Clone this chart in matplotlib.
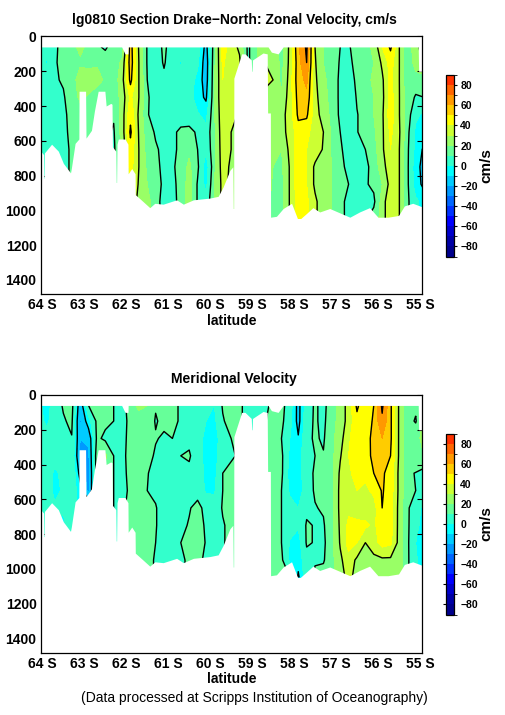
import numpy as np
import matplotlib
matplotlib.use('Agg')
import matplotlib.pyplot as plt
from matplotlib.colors import ListedColormap, BoundaryNorm

plt.rcParams['font.family'] = ['Liberation Sans', 'DejaVu Sans']

lat = np.arange(64.1, 54.85, -0.2)
depth = [60, 150, 250, 350, 450, 550, 650, 750, 850, 950, 1050]

# one row per latitude, top to bottom, cm/s
zonal = [
    [9, 9, 8, 8, 9, 11, 11, 11, 11, 11, 11],
    [1, -1, 5, 6, 7, 8, 8, 8, 8, 8, 8],
    [8, 9, 9, 7, 7, 8, 8, 8, 8, 8, 8],
    [14, 13, 11, 9, 8, 8, 8, 8, 8, 8, 8],
    [16, 17, 15, 15, 13, 12, 11, 11, 11, 11, 11],
    [23, 18, 25, 22, 15, 14, 14, 14, 14, 14, 14],
    [17, 18, 24, 19, 16, 15, 15, 15, 15, 15, 15],
    [12, 18, 25, 12, 15, 15, 15, 15, 15, 15, 15],
    [8, 17, 18, 14, 12, 12, 12, 12, 12, 12, 12],
    [16, 15, 14, 13, 11, 9, 8, 8, 8, 8, 8],
    [14, 22, 26, 24, 25, 24, 22, 22, 22, 22, 22],
    [55, 56, 53, 42, 47, 52, 46, 44, 40, 40, 40],
    [29, 30, 30, 30, 28, 29, 30, 30, 29, 26, 26],
    [9, 9, 10, 12, 11, 14, 16, 18, 20, 24, 26],
    [5, 5, 6, 3, 5, 9, 11, 12, 12, 13, 14],
    [12, 11, 8, 7, 8, 9, 8, 8, 9, 7, 7],
    [5, 4, 6, 6, 6, 8, 7, 8, 7, 6, 6],
    [5, -1, 3, 5, 5, 12, 13, 15, 14, 14, 14],
    [5, 8, 5, 4, 6, 12, 18, 22, 24, 24, 24],
    [5, 2, -3, -5, 1, 9, 10, 12, 9, 9, 9],
    [-14, -17, -16, -12, -3, 3, 1, -6, -3, 3, 3],
    [16, 18, 19, 19, 19, 18, 18, 18, 20, 20, 20],
    [45, 42, 40, 40, 38, 37, 36, 35, 33, 33, 33],
    [35, 32, 34, 34, 35, 30, 30, 28, 28, 28, 28],
    [28, 32, 30, 28, 28, 28, 28, 28, 28, 28, 28],
    [8, 8, 8, 8, 8, 8, 8, 8, 8, 8, 8],
    [18, 18, 18, 18, 18, 18, 18, 18, 18, 18, 18],
    [29, 30, 31, 29, 28, 28, 28, 28, 28, 28, 28],
    [25, 28, 30, 25, 30, 28, 22, 20, 18, 16, 16],
    [14, 17, 17, 22, 26, 27, 20, 18, 17, 16, 16],
    [33, 33, 35, 35, 35, 33, 33, 31, 31, 31, 31],
    [58, 56, 56, 54, 52, 46, 46, 46, 46, 45, 44],
    [72, 70, 62, 58, 52, 43, 40, 40, 40, 42, 44],
    [30, 31, 32, 33, 34, 35, 36, 28, 28, 32, 32],
    [20, 20, 22, 24, 26, 30, 29, 26, 24, 24, 24],
    [16, 16, 16, 16, 17, 18, 18, 20, 20, 20, 20],
    [10, 9, 8, 8, 8, 10, 11, 12, 13, 14, 14],
    [9, 7, 3, 2, 3, 5, 7, 8, 10, 6, 6],
    [14, 14, 13, 11, 9.5, 9.5, 8, 6, 6, 5, 5],
    [17, 17, 16, 15, 14, 14, 10, 8, 9, 9, 9],
    [22, 20, 22, 20, 20, 18, 16, 13, 12, 8, 14],
    [40, 32, 28, 27, 28, 28, 28, 26, 20, 24, 24],
    [52, 44, 43, 44, 46, 42, 40, 36, 34, 40, 40],
    [31, 31, 31, 31, 31, 32, 31, 31, 31, 31, 31],
    [11, 12, 11, 15, 15, 13, 12, 12, 12, 12, 12],
    [28, 25, 15, 9, 2, -2, -3, -6, -5, 2, 2],
    [33, 32, 15, 10, -2, -4, -12, -14, -13, -4, -2],
]

meridional = [
    [3, 4, 5, 6, 7, 7, 7, 7, 7, 7, 7],
    [-4, -2, 5, 3, 5, 4, 3, 3, 3, 3, 3],
    [5, 5, 5, 4, -2, -2, 1, 0, 0, 0, 0],
    [11, 9, 7, 5, 3, 1, 1, -2, 0, 0, 0],
    [14, 12, 9.5, 8, 9, 6, 6, 6, 6, 6, 6],
    [-18, -22, -20, -22, -14, -5, -5, -5, -5, -5, -5],
    [10, -4, -18, -22, -24, -24, 5, 5, 5, 5, 5],
    [14, 12, 12, 16, 15, 15, 15, 15, 15, 15, 15],
    [12, 12, 8, 22, 15, 14, 14, 14, 14, 14, 14],
    [10, 10, 10, 10, 10, 10, 10, 10, 10, 10, 10],
    [5, 6, 7, 7, 6, 5, 6, 6, 6, 6, 6],
    [16, 13, 13, 14, 14, 13, 16, 18, 16, 16, 16],
    [22, 16, 14, 14, 12, 11, 13, 13, 14, 15, 15],
    [20, 18, 16, 15, 10.5, 10, 11, 13, 13, 13, 13],
    [11, 9, 11, 8, 7, 7, 11, 11, 10, 9, 9],
    [12, 13, 8, 6, 6, 6, 3, 3, 5, 6, 6],
    [16, 16, 10, 6, 7, 7, 6, 6, 7, 6, 6],
    [7, 7, 7, 10, 7, 7, 7, 7, 10, 8, 8],
    [7, 10, 8, 11, 8, 7, 9, 11, 18, 12, 12],
    [6, 6, 3, 5, 6, 5, 14, 16, 18, 14, 14],
    [3, 0, -2, -3, -3, -1, 6, 8, 9, 7, 7],
    [0, -2, -5, -3, -3, -1, 3, 7, 8, 8, 8],
    [11, 9, 6, 5, 10, 10, 11, 9, 9, 9, 9],
    [18, 14, 10, 9, 12, 13, 12, 13, 13, 13, 13],
    [11, 11, 11, 11, 11, 11, 11, 11, 11, 11, 11],
    [8, 8, 8, 8, 8, 8, 8, 8, 8, 8, 8],
    [10, 10, 10, 10, 10, 10, 10, 10, 10, 10, 10],
    [6, 9, 10, 10, 10, 10, 10, 10, 10, 10, 10],
    [14, 15, 16, 20, 20, 17, 16, 16, 16, 16, 16],
    [13, 12, 10, 12, 12, 10, 10, 10, 10, 12, 13],
    [5, 4, 0, -2, -4, -2, 4, 5, -1, -2, 10],
    [-14, -14, -9, -4, -5, -6, 0, 1, -4, -6, -12],
    [6, 7, 8, 7, 7, 6, 8, 11, 11, 7, 7],
    [11, 11, 11, 10, 11, 11, 9.5, 9.5, 9.5, 9.5, 11],
    [8, 8, 9, 10.5, 14, 14, 11, 9, 8, 9, 14],
    [14, 16, 17, 17, 17, 17, 17, 17, 17, 17, 17],
    [24, 24, 26, 29, 32, 33, 33, 32, 31, 28, 25],
    [34, 34, 38, 40, 38, 38, 38, 42, 44, 36, 34],
    [52, 47, 48, 46, 44, 40, 36, 42, 40, 28, 25],
    [42, 42, 43, 42, 42, 38, 34, 42, 30, 22, 20],
    [50, 52, 55, 55, 50, 42, 36, 38, 36, 27, 25],
    [72, 68, 60, 55, 52, 51, 50, 46, 44, 28, 26],
    [52, 52, 52, 50, 45, 45, 45, 44, 42, 28, 25],
    [29, 29, 29, 29, 28, 28, 27, 27, 27, 26, 26],
    [14, 14, 12, 12, 12, 12, 12, 12, 12, 12, 12],
    [12, 9, 18, 20, 9.5, 10, 3, 2, 0, 1, 1],
    [18, 25, 22, 20, 6, 5, -2, -3, -4, -4, -4],
]

# edges of the sampled section
bottom_lat = [64.04, 63.97, 63.965, 63.955, 63.95, 63.78, 63.62, 63.5, 63.33, 63.31, 63.22, 63.13,
              63.125, 62.97, 62.96, 62.83, 62.76, 62.67, 62.51, 62.48, 62.37, 62.34, 62.33, 62.25,
              62.24, 62.23, 62.22, 62.19, 62.03, 61.96, 61.955, 61.87, 61.79, 61.785, 61.6, 61.44,
              61.32, 61.12, 60.8, 60.64, 60.4, 60.01, 59.81, 59.69, 59.53, 59.46, 59.45, 59.44,
              59.435, 59.25, 59.17, 59.02, 59.01, 59.0, 58.99, 58.74, 58.64, 58.63, 58.565, 58.56,
              58.42, 58.26, 58.06, 57.9, 57.71, 57.55, 57.39, 57.15, 56.67, 56.44, 56.2, 56.0,
              55.76, 55.51, 55.37, 55.17, 54.95]
bottom_depth = [660, 680, 815, 815, 670, 620, 660, 730, 785, 760, 615, 590,
                315, 315, 585, 540, 430, 315, 315, 400, 385, 390, 635, 660,
                840, 840, 620, 590, 590, 620, 790, 760, 790, 910, 950, 985,
                960, 965, 940, 965, 940, 930, 920, 865, 770, 750, 990, 990,
                240, 100, 100, 135, 200, 200, 135, 95, 100, 440, 440, 1040,
                1035, 990, 960, 1060, 1020, 985, 1010, 990, 1040, 1010, 985, 1040,
                1040, 1030, 975, 960, 980]
top_lat = [64.04, 62.11, 62.03, 61.96, 61.955, 58.62, 58.54, 58.38, 58.26, 55.04, 55.03, 54.95]
top_depth = [60, 60, 100, 100, 60, 60, 90, 100, 60, 60, 200, 200]

lat_ticks = [64, 63, 62, 61, 60, 59, 58, 57, 56, 55]
depth_ticks = [0, 200, 400, 600, 800, 1000, 1200, 1400]
band_edges = list(range(-90, 100, 10))
contour_levels = [-70, -50, -30, -10, 10, 30, 50, 70]
bar_ticks = list(range(-80, 100, 20))

band_colors = [(0, 0, .55), (0, 0, .65), (0, 0, .8), (0, 0, 1), (0, .2, 1), (0, .4, 1),
               (0, .6, 1), (0, .8, 1), (0, 1, 1), (.2, 1, .8), (.4, 1, .6), (.6, 1, .4),
               (.8, 1, .2), (1, 1, 0), (1, .8, 0), (1, .6, 0), (1, .4, 0), (1, .2, 0)]
cmap = ListedColormap(band_colors)
norm = BoundaryNorm(band_edges, cmap.N)

W, H = 505, 715
fig = plt.figure(figsize=(W / 100, H / 100), dpi=100)


def px_axes(left, top, right, bottom):
    return fig.add_axes([left / W, 1 - bottom / H, (right - left) / W, (bottom - top) / H])


def section(values, box, bar_box, title, title_y, label_y):
    ax = px_axes(*box)
    v = np.array(values, dtype=float).T
    ax.contourf(lat, depth, v, levels=band_edges, cmap=cmap, norm=norm, zorder=1)
    ax.contour(lat, depth, v, levels=contour_levels, colors='k', linewidths=1.0,
               linestyles='solid', zorder=2)
    ax.fill_between(bottom_lat, bottom_depth, 1500, color='w', lw=0, zorder=3)
    ax.fill_between(top_lat, 0, top_depth, color='w', lw=0, zorder=3)
    ax.set_xlim(64.04, 54.95)
    ax.set_ylim(1482, 0)
    ax.set_xticks(lat_ticks)
    ax.set_xticklabels(['%d S' % t for t in lat_ticks], fontsize=10, fontweight='bold')
    ax.set_yticks(depth_ticks)
    ax.set_yticklabels(depth_ticks, fontsize=10, fontweight='bold')
    ax.tick_params(direction='in', top=True, right=True, length=3.5, width=0.8, pad=3)
    for s in ax.spines.values():
        s.set_linewidth(0.9)
        s.set_zorder(5)
    fig.text(234 / W, 1 - title_y / H, title, ha='center', va='center', fontsize=10, fontweight='bold')
    fig.text(232 / W, 1 - label_y / H, 'latitude', ha='center', va='center', fontsize=10, fontweight='bold')

    cax = px_axes(*bar_box)
    sm = plt.cm.ScalarMappable(norm=norm, cmap=cmap)
    cb = fig.colorbar(sm, cax=cax, boundaries=band_edges, ticks=bar_ticks, spacing='proportional')
    cb.ax.set_yticklabels([str(t).replace('-', '\u2212') for t in bar_ticks], fontsize=7.5, fontweight='bold')
    cb.ax.tick_params(axis='y', direction='out', left=True, right=False, labelright=True, length=2.5, width=0.8, pad=2)
    cb.outline.set_linewidth(0.9)
    cb.set_label('cm/s', fontsize=11, fontweight='bold', labelpad=1)


section(zonal, (40.7, 36.5, 422, 294), (445.5, 75, 454, 256.5),
        'lg0810 Section Drake\u2212North: Zonal Velocity, cm/s', 20, 321)
section(meridional, (40.7, 395, 422, 652.5), (445.5, 433.5, 454, 614.5),
        'Meridional Velocity', 379, 679)
fig.text(254 / W, 1 - 698 / H, '(Data processed at Scripps Institution of Oceanography)',
         ha='center', va='center', fontsize=10)

fig.savefig('out.png', dpi=100)
